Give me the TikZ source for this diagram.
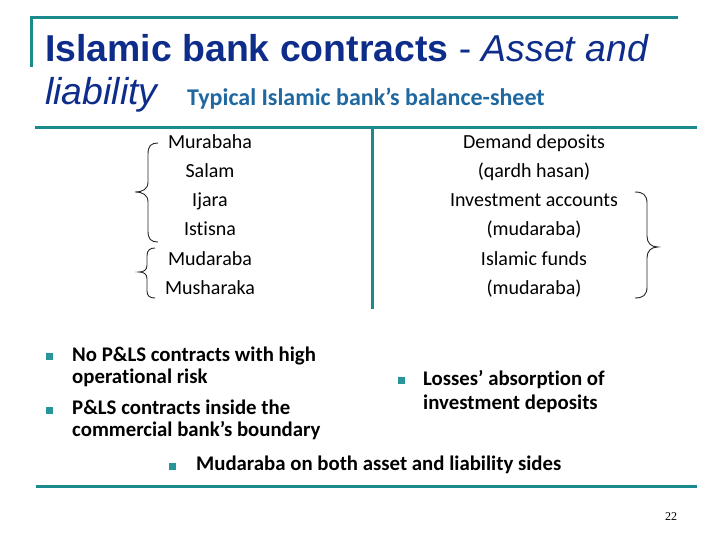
\documentclass[tikz,border=0pt]{standalone}
\usepackage{fontspec}
\setmainfont[Ligatures=NoCommon]{Carlito}
\newfontfamily\arialf{Liberation Sans}
\newfontfamily\timesf{Liberation Serif}
\definecolor{teal1}{RGB}{27,138,140}
\definecolor{bul}{RGB}{38,150,155}
\definecolor{navy}{RGB}{14,44,138}
\definecolor{sub}{RGB}{31,104,160}
\tikzset{
  rule/.style={draw=teal1, line width=3pt},
  brc/.style={draw=black!85, line width=0.9pt},
  item/.style={anchor=base, inner sep=0pt, font=\fontsize{20}{24}\selectfont},
  btxt/.style={anchor=base west, inner sep=0pt, font=\bfseries\fontsize{20.8}{24}\selectfont},
  bsq/.style={fill=bul, minimum width=7pt, minimum height=7pt, inner sep=0pt, draw=none}
}
\begin{document}
\begin{tikzpicture}[x=1pt,y=-1pt]
\useasboundingbox (0,0) rectangle (720,540);
% frame lines
\draw[rule] (30,18) -- (678,18);
\draw[rule] (31,18) -- (31,67);
\draw[rule] (35,128) -- (697,128);
\draw[rule] (372,128) -- (372,309);
\draw[rule] (36,486) -- (697,486);
% title
\node[anchor=base west, inner sep=0pt, text=navy, font=\arialf\fontsize{37.4}{44}\selectfont] (t1) at (45,62) {\textbf{Islamic bank contracts} - \textit{Asset and}};
\node[anchor=base west, inner sep=0pt, text=navy, font=\arialf\fontsize{37.4}{44}\selectfont] (t2) at (45,105) {\textit{liability}};
\node[anchor=base west, inner sep=0pt, text=sub, font=\bfseries\fontsize{24}{28}\selectfont] (t3) at (187,106) {Typical Islamic bank’s balance-sheet};
% assets
\node[item] (a1) at (210,149) {Murabaha};
\node[item] (a2) at (210,178) {Salam};
\node[item] (a3) at (210,207) {Ijara};
\node[item] (a4) at (210,236) {Istisna};
\node[item] (a5) at (210,265) {Mudaraba};
\node[item] (a6) at (210,294) {Musharaka};
% liabilities
\node[item] (l1) at (534,149) {Demand deposits};
\node[item] (l2) at (534,178) {(qardh hasan)};
\node[item] (l3) at (534,207) {Investment accounts};
\node[item] (l4) at (534,236) {(mudaraba)};
\node[item] (l5) at (534,265) {Islamic funds};
\node[item] (l6) at (534,294) {(mudaraba)};
% braces
\draw[brc] (158,143) .. controls (151,143) and (148,146) .. (148,154) -- (148,182)
  .. controls (148,189) and (143,192) .. (135,192)
  .. controls (143,192) and (148,195) .. (148,202) -- (148,231)
  .. controls (148,239) and (151,242) .. (158,242);
\draw[brc] (155,248) .. controls (150,248) and (147,250) .. (147,256) -- (147,265)
  .. controls (147,270) and (144,272) .. (139,272)
  .. controls (144,272) and (147,274) .. (147,279) -- (147,291)
  .. controls (147,296) and (150,298) .. (155,298);
\draw[brc] (635,192) .. controls (643,192) and (647,195) .. (647,203) -- (647,236)
  .. controls (647,243) and (651,247) .. (658,247)
  .. controls (651,247) and (647,251) .. (647,258) -- (647,287)
  .. controls (647,295) and (643,298) .. (635,298);
% bullets
\node[bsq] (b1) at (49,356) {};
\node[btxt] (bt1a) at (72,361) {No P\&LS contracts with high};
\node[btxt] (bt1b) at (72,383) {operational risk};
\node[bsq] (b2) at (49,410) {};
\node[btxt] (bt2a) at (72,414) {P\&LS contracts inside the};
\node[btxt] (bt2b) at (72,436) {commercial bank’s boundary};
\node[bsq] (b3) at (401,380) {};
\node[btxt] (bt3a) at (423,385) {Losses’ absorption of};
\node[btxt] (bt3b) at (423,409) {investment deposits};
\node[bsq] (b4) at (172,466) {};
\node[btxt] (bt4) at (196,470) {Mudaraba on both asset and liability sides};
% page number
\node[anchor=base, inner sep=0pt, font=\timesf\fontsize{12}{14}\selectfont] (pg) at (671,520) {22};
\end{tikzpicture}
\end{document}
